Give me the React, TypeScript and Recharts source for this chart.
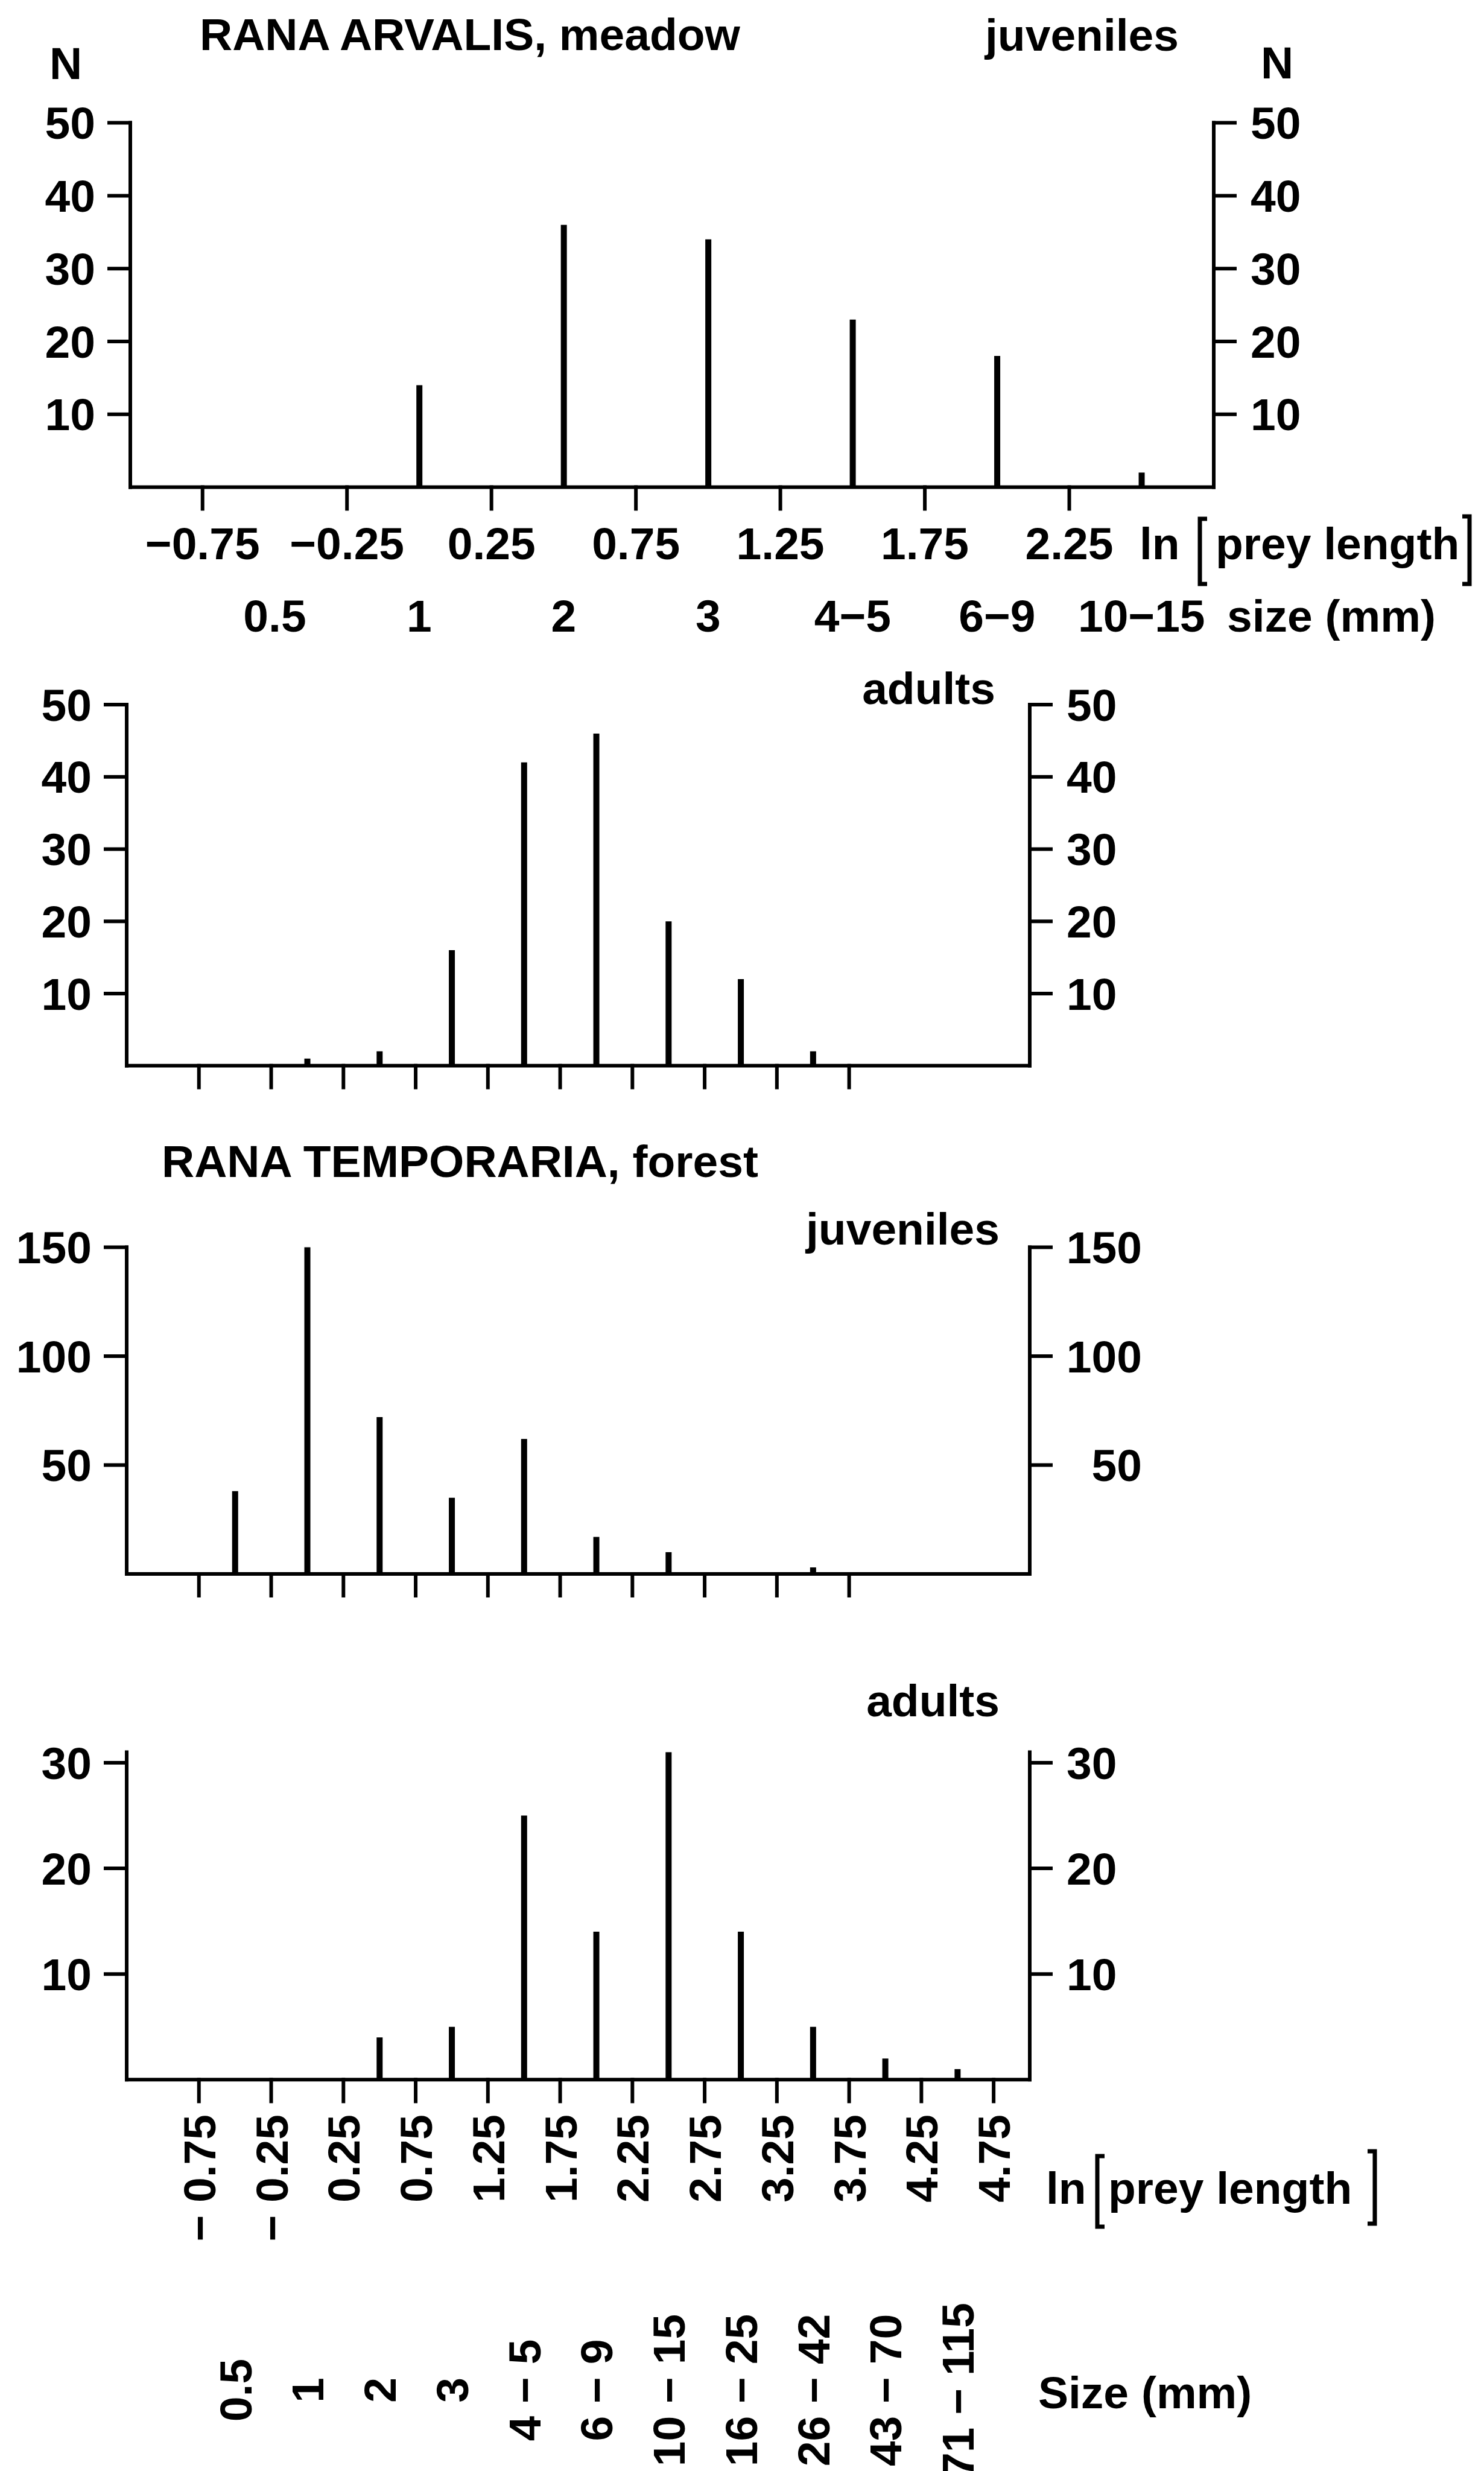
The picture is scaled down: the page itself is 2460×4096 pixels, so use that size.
// Prey-size distributions of Rana arvalis (meadow) and Rana temporaria
// (forest), juveniles and adults: counts per ln(prey length) bin drawn as
// thin needle bars, one Recharts chart per panel, stacked on one page.
import { Bar, ComposedChart, Line, XAxis, YAxis } from "recharts";

const FONT = '"Liberation Sans", Arial, Helvetica, sans-serif';
const FS = 75;
const INK = "#000";
const PAGE_W = 2460;
const PAGE_H = 4096;

// ---- data ----
const LN_TICKS_TOP = [-0.75, -0.25, 0.25, 0.75, 1.25, 1.75, 2.25];
const LN_LABELS_TOP = ["−0.75", "−0.25", "0.25", "0.75", "1.25", "1.75", "2.25"];
const BINS_TOP = [-0.5, 0, 0.5, 1, 1.5, 2, 2.5];
const SIZE_LABELS_TOP = ["0.5", "1", "2", "3", "4−5", "6−9", "10−15"];
const ARVALIS_JUVENILES = [0, 14, 36, 34, 23, 18, 2];

const LN_TICKS_BOTTOM = [-0.75, -0.25, 0.25, 0.75, 1.25, 1.75, 2.25, 2.75, 3.25, 3.75, 4.25, 4.75];
const LN_LABELS_BOTTOM = [
  "− 0.75", "− 0.25", "0.25", "0.75", "1.25", "1.75",
  "2.25", "2.75", "3.25", "3.75", "4.25", "4.75",
];
const LN_TICKS_MID = [-0.75, -0.25, 0.25, 0.75, 1.25, 1.75, 2.25, 2.75, 3.25, 3.75];
const BINS_BOTTOM = [-0.5, 0, 0.5, 1, 1.5, 2, 2.5, 3, 3.5, 4, 4.5];
const SIZE_LABELS_BOTTOM = [
  "0.5", "1", "2", "3", "4 − 5", "6 − 9", "10 − 15",
  "16 − 25", "26 − 42", "43 − 70", "71 − 115",
];
const ARVALIS_ADULTS = [0, 1, 2, 16, 42, 46, 20, 12, 2, 0, 0];
const TEMPORARIA_JUVENILES = [38, 150, 72, 35, 62, 17, 10, 0, 3, 0, 0];
const TEMPORARIA_ADULTS = [0, 0, 4, 5, 25, 14, 31, 14, 5, 2, 1];

const Y_TICKS_50 = [10, 20, 30, 40, 50];
const Y_TICKS_150 = [50, 100, 150];
const Y_TICKS_30 = [10, 20, 30];

// ---- styling ----
const AX = { stroke: INK, strokeWidth: 6, strokeLinecap: "square" as const };
const txt = { fontFamily: FONT, fontSize: FS, fontWeight: "bold" as const, fill: INK };

const leftTick = (props: any) => (
  <text x={props.x} y={props.y} dy="0.355em" textAnchor="end" {...txt}>
    {props.payload.value}
  </text>
);

const rightTick = (alignEnd: boolean) => (props: any) => (
  <text
    x={alignEnd ? props.x + 125 : props.x}
    y={props.y}
    dy="0.355em"
    textAnchor={alignEnd ? "end" : "start"}
    {...txt}
  >
    {props.payload.value}
  </text>
);

const noTick = () => <g />;

// panel 1: horizontal labels under the axis
const lnTickTop = (chartTop: number) => (props: any) => {
  const i = LN_TICKS_TOP.indexOf(props.payload.value);
  return (
    <text x={props.x} y={927 - chartTop} textAnchor="middle" {...txt}>
      {LN_LABELS_TOP[i]}
    </text>
  );
};
const sizeTickTop = (chartTop: number) => (props: any) => {
  const i = BINS_TOP.indexOf(props.payload.value);
  return (
    <text x={props.x} y={1047 - chartTop} textAnchor="middle" {...txt}>
      {SIZE_LABELS_TOP[i]}
    </text>
  );
};

// panel 4: rotated labels
const lnTickBottom = (chartTop: number) => (props: any) => {
  const i = LN_TICKS_BOTTOM.indexOf(props.payload.value);
  const x0 = props.x + 27;
  const y0 = 3505 - chartTop;
  return (
    <text x={x0} y={y0} transform={`rotate(-90 ${x0} ${y0})`} textAnchor="end" {...txt}>
      {LN_LABELS_BOTTOM[i]}
    </text>
  );
};
const sizeTickBottom = (chartTop: number) => (props: any) => {
  const i = BINS_BOTTOM.indexOf(props.payload.value);
  const x0 = props.x + 27;
  const y0 = 3962 - chartTop;
  return (
    <text x={x0} y={y0} transform={`rotate(-90 ${x0} ${y0})`} textAnchor="middle" {...txt}>
      {SIZE_LABELS_BOTTOM[i]}
    </text>
  );
};

type PanelProps = {
  top: number;
  height: number;
  plotTop: number;
  plotBottom: number;
  plotLeft: number;
  plotRight: number;
  domain: [number, number];
  bins: number[];
  values: number[];
  lnTicks: number[];
  yTicks: number[];
  yMax: number;
  lnTick: any;
  sizeTick?: any;
  rightAlignEnd?: boolean;
};

function Panel(p: PanelProps) {
  const data = p.bins.map((x, i) => ({ x, n: p.values[i] }));
  const axisW = 150;
  const lnH = 40;
  const sizeH = p.sizeTick ? 10 : 0;
  const margin = {
    top: p.plotTop - p.top,
    left: p.plotLeft - axisW,
    right: PAGE_W - p.plotRight - axisW,
    bottom: p.height - (p.plotBottom - p.top) - lnH - sizeH,
  };
  return (
    <div style={{ position: "absolute", left: 0, top: p.top }}>
      <ComposedChart width={PAGE_W} height={p.height} data={data} margin={margin}>
        <XAxis
          xAxisId="ln"
          dataKey="x"
          type="number"
          domain={p.domain}
          ticks={p.lnTicks}
          interval={0}
          allowDataOverflow
          height={lnH}
          tickSize={36}
          axisLine={AX}
          tickLine={AX}
          tick={p.lnTick}
        />
        {p.sizeTick && (
          <XAxis
            xAxisId="size"
            dataKey="x"
            type="number"
            domain={p.domain}
            ticks={p.bins}
            interval={0}
            allowDataOverflow
            height={sizeH}
            tickSize={0}
            axisLine={false}
            tickLine={false}
            tick={p.sizeTick}
          />
        )}
        <YAxis
          yAxisId="l"
          type="number"
          domain={[0, p.yMax]}
          ticks={p.yTicks}
          interval={0}
          width={axisW}
          tickSize={35}
          tickMargin={23}
          axisLine={AX}
          tickLine={AX}
          tick={leftTick}
        />
        <YAxis
          yAxisId="r"
          orientation="right"
          type="number"
          domain={[0, p.yMax]}
          ticks={p.yTicks}
          interval={0}
          width={axisW}
          tickSize={35}
          tickMargin={26}
          axisLine={AX}
          tickLine={AX}
          tick={rightTick(!!p.rightAlignEnd)}
        />
        <Bar xAxisId="ln" yAxisId="l" dataKey="n" fill={INK} barSize={10} isAnimationActive={false} />
        {/* mirror scale on the right: same counts, drawn invisibly */}
        <Line
          xAxisId="ln"
          yAxisId="r"
          dataKey="n"
          stroke="none"
          dot={false}
          activeDot={false}
          legendType="none"
          isAnimationActive={false}
        />
      </ComposedChart>
    </div>
  );
}

const TEXTS: { x: number; y: number; s: string; anchor?: "start" | "middle" | "end" }[] = [
  { x: 331, y: 83, s: "RANA ARVALIS, meadow" },
  { x: 1954, y: 84, s: "juveniles", anchor: "end" },
  { x: 109, y: 131, s: "N", anchor: "middle" },
  { x: 2117, y: 130, s: "N", anchor: "middle" },
  { x: 1889, y: 927, s: "ln" },
  { x: 2015, y: 927, s: "prey length" },
  { x: 2034, y: 1047, s: "size (mm)" },
  { x: 1650, y: 1167, s: "adults", anchor: "end" },
  { x: 268, y: 1951, s: "RANA TEMPORARIA, forest" },
  { x: 1657, y: 2063, s: "juveniles", anchor: "end" },
  { x: 1657, y: 2845, s: "adults", anchor: "end" },
  { x: 1734, y: 3653, s: "ln" },
  { x: 1837, y: 3653, s: "prey length" },
  { x: 1721, y: 3992, s: "Size (mm)" },
];

// tall square brackets around "prey length"
const BRACKETS = [
  { x: 1989, y1: 860, y2: 968, dir: 1 },
  { x: 2436, y1: 856, y2: 968, dir: -1 },
  { x: 1819, y1: 3574, y2: 3691, dir: 1 },
  { x: 2279, y1: 3566, y2: 3686, dir: -1 },
];

export default function App() {
  return (
    <div style={{ position: "absolute", left: 0, top: 0, width: PAGE_W, height: PAGE_H, background: "#fff" }}>
      <Panel
        top={0}
        height={1100}
        plotTop={203.6}
        plotBottom={807.5}
        plotLeft={216}
        plotRight={2012}
        domain={[-1, 2.75]}
        bins={BINS_TOP}
        values={ARVALIS_JUVENILES}
        lnTicks={LN_TICKS_TOP}
        yTicks={Y_TICKS_50}
        yMax={50}
        lnTick={lnTickTop(0)}
        sizeTick={sizeTickTop(0)}
      />
      <Panel
        top={1100}
        height={760}
        plotTop={1168}
        plotBottom={1766.6}
        plotLeft={210}
        plotRight={1707}
        domain={[-1.25, 5]}
        bins={BINS_BOTTOM}
        values={ARVALIS_ADULTS}
        lnTicks={LN_TICKS_MID}
        yTicks={Y_TICKS_50}
        yMax={50}
        lnTick={noTick}
      />
      <Panel
        top={1980}
        height={700}
        plotTop={2067.5}
        plotBottom={2609}
        plotLeft={210}
        plotRight={1707}
        domain={[-1.25, 5]}
        bins={BINS_BOTTOM}
        values={TEMPORARIA_JUVENILES}
        lnTicks={LN_TICKS_MID}
        yTicks={Y_TICKS_150}
        yMax={150}
        lnTick={noTick}
        rightAlignEnd
      />
      <Panel
        top={2870}
        height={PAGE_H - 2870}
        plotTop={2904.4}
        plotBottom={3447.3}
        plotLeft={210}
        plotRight={1707}
        domain={[-1.25, 5]}
        bins={BINS_BOTTOM}
        values={TEMPORARIA_ADULTS}
        lnTicks={LN_TICKS_BOTTOM}
        yTicks={Y_TICKS_30}
        yMax={30}
        lnTick={lnTickBottom(2870)}
        sizeTick={sizeTickBottom(2870)}
      />
      <svg
        width={PAGE_W}
        height={PAGE_H}
        style={{ position: "absolute", left: 0, top: 0, pointerEvents: "none" }}
      >
        {TEXTS.map((t, i) => (
          <text key={i} x={t.x} y={t.y} textAnchor={t.anchor ?? "start"} {...txt}>
            {t.s}
          </text>
        ))}
        {BRACKETS.map((b, i) => (
          <path
            key={i}
            d={`M${b.x + 12 * b.dir} ${b.y1} H${b.x} V${b.y2} H${b.x + 12 * b.dir}`}
            fill="none"
            stroke={INK}
            strokeWidth={7}
          />
        ))}
      </svg>
    </div>
  );
}
